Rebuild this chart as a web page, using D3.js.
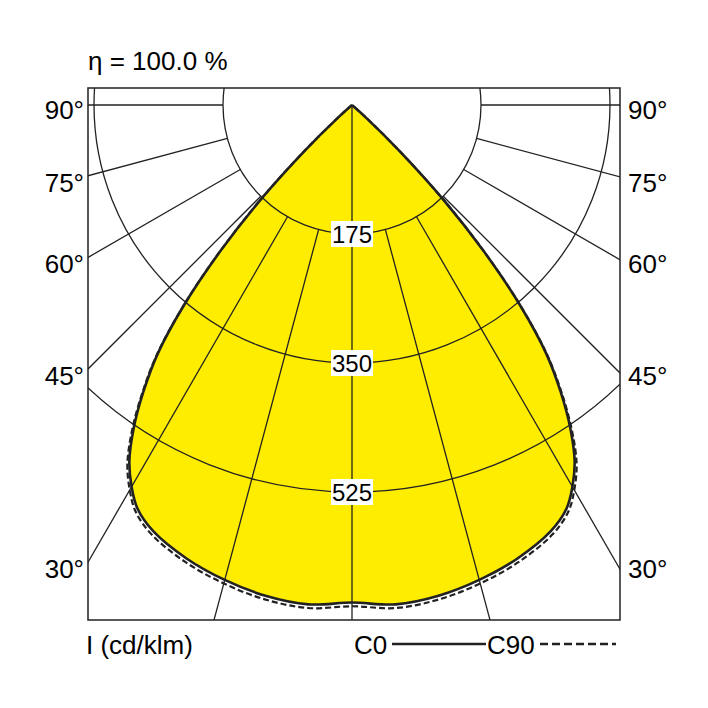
<!DOCTYPE html>
<html><head><meta charset="utf-8">
<script src="https://cdn.jsdelivr.net/npm/d3@7"></script>
<style>body{margin:0;background:#fff}</style></head>
<body><svg id="c" width="708" height="708"></svg>
<script>
const angles = [0,5,10,15,20,25,28,30,32,34,36,38,40,42,44,46,48,50,60,70,80,90];
const c0 =     [675,680,676,667,655,638,620,598,570,530,482,428,355,268,178,88,25,0,0,0,0,0];
const c90 =    [680,685,681,672,660,643,625,603,575,534,485,430,356,269,178,88,25,0,0,0,0,0];
const rings = [175,350,525];
const spokes = [15,30,45,60,75,90];
const sideLabels = ["90°","75°","60°","45°","30°"];
const sideAngles = [90,75,60,45,30];

const svg = d3.select("#c");
const font = "'Liberation Sans Narrow','Arial Narrow','Liberation Sans',sans-serif";
const L=88,R=620,T=88,B=620, cx=352, cy=105;
const r = d3.scaleLinear().domain([0,525]).range([0,387]);
const pt=(a,v)=>[cx+r(v)*Math.sin(a*Math.PI/180), cy+r(v)*Math.cos(a*Math.PI/180)];

svg.append("clipPath").attr("id","fr").append("rect").attr("x",L).attr("y",T).attr("width",R-L).attr("height",B-T);
const g = svg.append("g").attr("clip-path","url(#fr)");

function curvePts(arr){
  const right = angles.map((a,i)=>pt(a,arr[i]));
  const left = angles.map((a,i)=>pt(-a,arr[i])).reverse();
  return left.concat(right.slice(1));
}
const line = d3.line().curve(d3.curveCatmullRomClosed.alpha(0.5));
g.append("path").attr("d",line(curvePts(c0))).attr("fill","#ffed00").attr("stroke","none");

rings.forEach(v=>g.append("circle").attr("cx",cx).attr("cy",cy).attr("r",r(v)).attr("fill","none").attr("stroke","#222").attr("stroke-width",1.3));
spokes.forEach(a=>[a,-a].forEach(s=>{
  const p0=pt(s,175), p1=pt(s,1200);
  g.append("line").attr("x1",p0[0]).attr("y1",p0[1]).attr("x2",p1[0]).attr("y2",p1[1]).attr("stroke","#222").attr("stroke-width",1.3);
}));
g.append("line").attr("x1",cx).attr("y1",cy).attr("x2",cx).attr("y2",B).attr("stroke","#222").attr("stroke-width",1.3);

g.append("path").attr("d",line(curvePts(c90))).attr("fill","none").attr("stroke","#222").attr("stroke-width",2.2).attr("stroke-dasharray","6,3");
g.append("path").attr("d",line(curvePts(c0))).attr("fill","none").attr("stroke","#222").attr("stroke-width",2.6);

svg.append("rect").attr("x",L).attr("y",T).attr("width",R-L).attr("height",B-T).attr("fill","none").attr("stroke","#222").attr("stroke-width",1.5);

rings.forEach(v=>{
  const y=cy+r(v);
  svg.append("rect").attr("x",cx-21).attr("y",y-13).attr("width",42).attr("height",26).attr("fill","#fff");
  svg.append("text").attr("x",cx).attr("y",y+9).attr("text-anchor","middle").attr("font-family",font).attr("font-size",24).text(v);
});
sideAngles.forEach((a,i)=>{
  const y = cy + (cx-L)/Math.tan(a*Math.PI/180);
  const yy = a===90? cy+14 : y+16;
  svg.append("text").attr("x",L-4).attr("y",yy).attr("text-anchor","end").attr("font-family",font).attr("font-size",26).text(sideLabels[i]);
  svg.append("text").attr("x",R+8).attr("y",yy).attr("font-family",font).attr("font-size",26).text(sideLabels[i]);
});
svg.append("text").attr("x",88).attr("y",70).attr("font-family",font).attr("font-size",26).text("η = 100.0 %");
svg.append("text").attr("x",86).attr("y",654).attr("font-family",font).attr("font-size",26).text("I (cd/klm)");
svg.append("text").attr("x",354).attr("y",654).attr("font-family",font).attr("font-size",26).text("C0");
svg.append("line").attr("x1",392).attr("x2",486).attr("y1",644).attr("y2",644).attr("stroke","#222").attr("stroke-width",2.6);
svg.append("text").attr("x",487).attr("y",654).attr("font-family",font).attr("font-size",26).text("C90");
svg.append("line").attr("x1",540).attr("x2",616).attr("y1",644).attr("y2",644).attr("stroke","#222").attr("stroke-width",2.6).attr("stroke-dasharray","8,4");
</script></body></html>
